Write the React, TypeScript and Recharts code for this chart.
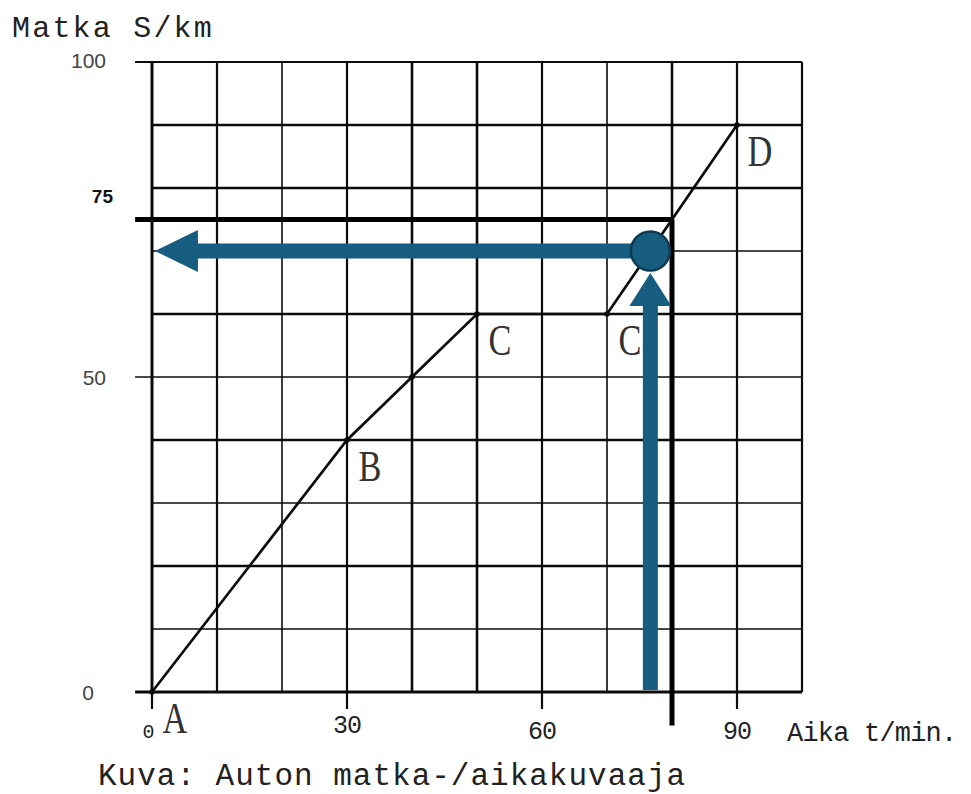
import React from 'react';
import {
  ComposedChart,
  Line,
  XAxis,
  YAxis,
  ReferenceLine,
  ReferenceDot,
  LabelList,
} from 'recharts';

// car distance / time graph: time in minutes, distance in km
const times = [0, 30, 40, 50, 70, 90];
const distances = [0, 40, 50, 60, 60, 90];
const pointNames = ['A', 'B', '', 'C', 'C', 'D'];

const xTicks = [0, 30, 60, 90];
const yTicks = [0, 50, 75, 100];

// grid every 10 units, with the line weight of the scanned paper
const gridX = [10, 20, 30, 40, 50, 60, 70, 80, 90, 100];
const gridXWidth = [2.2, 1.6, 2.2, 2.6, 2.6, 2.2, 1.6, 2.6, 2.2, 2.2];
const gridY = [10, 20, 30, 40, 50, 60, 70, 80, 90];
const gridYWidth = [1.6, 2.6, 1.6, 2.6, 1.6, 2.6, 1.6, 2.6, 2.6];

// reading lines (black) and the blue arrow reading
const readTime = 80;
const readDistance = 75;
const arrowTime = 76.67;
const arrowDistance = 70;

const data = times.map((t, i) => ({ t, s: distances[i], name: pointNames[i] }));

const BLUE = '#165d80';
const INK = '#0c0c0c';
const mono = '"Liberation Mono", "DejaVu Sans Mono", monospace';

const YTick = (props: any) => {
  const { y, payload } = props;
  const v = payload.value;
  const bold = v === 75;
  const endX = v === 75 ? 113 : v === 0 ? 94 : 106;
  const dy = v === 75 ? -23 : v === 100 ? -2 : 0;
  return (
    <text
      x={endX}
      y={y + dy}
      textAnchor="end"
      dominantBaseline="central"
      fontFamily='"Liberation Sans", Arial, sans-serif'
      fontSize={bold ? 19 : 21}
      fontWeight={bold ? 700 : 400}
      fill={bold ? '#111' : '#444'}
    >
      {v}
    </text>
  );
};

const XTick = (props: any) => {
  const { x, payload } = props;
  const v = payload.value;
  return (
    <text
      x={v === 0 ? x - 4 : x}
      y={v === 30 ? 726 : 732}
      textAnchor="middle"
      dominantBaseline="central"
      fontFamily={mono}
      fontSize={v === 0 ? 20 : 25}
      letterSpacing={-1}
      fill="#222"
    >
      {v}
    </text>
  );
};

const PointLabel = (props: any) => {
  const { x, y, value } = props;
  if (!value) return null;
  return (
    <text
      transform={`translate(${x + 23}, ${y + 27}) scale(0.78, 1)`}
      textAnchor="middle"
      dominantBaseline="central"
      fontFamily='"Liberation Serif", "DejaVu Serif", serif'
      fontSize={44}
      fill="#333"
    >
      {value}
    </text>
  );
};

const LeftHead = (props: any) => {
  const { cx, cy } = props;
  return <path d={`M${cx},${cy} L${cx + 43},${cy - 21} L${cx + 43},${cy + 21} Z`} fill={BLUE} />;
};

const UpHead = (props: any) => {
  const { cx, cy } = props;
  return <path d={`M${cx},${cy} L${cx - 21},${cy + 33} L${cx + 21},${cy + 33} Z`} fill={BLUE} />;
};

const Vertex = (props: any) => {
  const { cx, cy } = props;
  return <circle cx={cx} cy={cy} r={2.8} fill={INK} />;
};

export default function App() {
  return (
    <div style={{ position: 'absolute', left: 0, top: 0, width: 971, height: 794, background: '#fff' }}>
      <ComposedChart
        width={971}
        height={794}
        data={data}
        margin={{ top: 62, right: 169, bottom: 72, left: 92 }}
      >
        <XAxis
          type="number"
          dataKey="t"
          domain={[0, 100]}
          ticks={xTicks}
          height={30}
          axisLine={false}
          tickLine={false}
          tick={<XTick />}
        />
        <YAxis
          type="number"
          domain={[0, 100]}
          ticks={yTicks}
          width={60}
          axisLine={false}
          tickLine={false}
          tick={<YTick />}
        />

        {gridX.map((v, i) => (
          <ReferenceLine key={'gx' + v} x={v} stroke={INK} strokeWidth={gridXWidth[i]} />
        ))}
        {gridY.map((v, i) => (
          <ReferenceLine key={'gy' + v} y={v} stroke={INK} strokeWidth={gridYWidth[i]} />
        ))}

        {/* frame: left axis, top and bottom lines running past the axis */}
        <ReferenceLine x={0} stroke={INK} strokeWidth={3} />
        <ReferenceLine segment={[{ x: -2.6, y: 100 }, { x: 100, y: 100 }]} stroke={INK} strokeWidth={2} ifOverflow="visible" />
        <ReferenceLine segment={[{ x: -2.6, y: 0 }, { x: 100, y: 0 }]} stroke={INK} strokeWidth={3} ifOverflow="visible" />
        <ReferenceLine segment={[{ x: -2.6, y: 50 }, { x: 0, y: 50 }]} stroke={INK} strokeWidth={1.5} ifOverflow="visible" />
        {xTicks.map((v) => (
          <ReferenceLine key={'tk' + v} segment={[{ x: v, y: 0 }, { x: v, y: -2.7 }]} stroke={INK} strokeWidth={2.2} ifOverflow="visible" />
        ))}

        {/* reading lines at 80 min / 75 km */}
        <ReferenceLine
          segment={[{ x: -2.6, y: readDistance }, { x: readTime, y: readDistance }]}
          stroke="#000"
          strokeWidth={5}
          ifOverflow="visible"
        />
        <ReferenceLine
          segment={[{ x: readTime, y: readDistance }, { x: readTime, y: -5.3 }]}
          stroke="#000"
          strokeWidth={5}
          ifOverflow="visible"
        />

        <Line
          type="linear"
          dataKey="s"
          stroke={INK}
          strokeWidth={2.7}
          dot={<Vertex />}
          activeDot={false}
          isAnimationActive={false}
        >
          <LabelList dataKey="name" content={<PointLabel />} />
        </Line>

        {/* blue arrows */}
        <ReferenceLine
          segment={[{ x: 6.5, y: arrowDistance }, { x: arrowTime, y: arrowDistance }]}
          stroke={BLUE}
          strokeWidth={15}
          ifOverflow="visible"
        />
        <ReferenceDot x={0.45} y={arrowDistance} r={1} shape={<LeftHead />} ifOverflow="visible" />
        <ReferenceLine
          segment={[{ x: arrowTime, y: 0.3 }, { x: arrowTime, y: 62 }]}
          stroke={BLUE}
          strokeWidth={15}
          ifOverflow="visible"
        />
        <ReferenceDot x={arrowTime} y={66.5} r={1} shape={<UpHead />} ifOverflow="visible" />
        <ReferenceDot
          x={arrowTime}
          y={arrowDistance}
          r={19.5}
          fill={BLUE}
          stroke="#0d3a52"
          strokeWidth={2.5}
          ifOverflow="visible"
        />

        <text x={12} y={37} fontFamily={mono} fontSize={30} letterSpacing={2.2} fill="#222">
          Matka S/km
        </text>
        <text x={787} y={741} fontFamily={mono} fontSize={27} letterSpacing={-0.8} fill="#222">
          Aika  t/min.
        </text>
        <text x={98} y={785} fontFamily={mono} fontSize={31} letterSpacing={1} fill="#222">
          Kuva: Auton matka-/aikakuvaaja
        </text>
      </ComposedChart>
    </div>
  );
}
